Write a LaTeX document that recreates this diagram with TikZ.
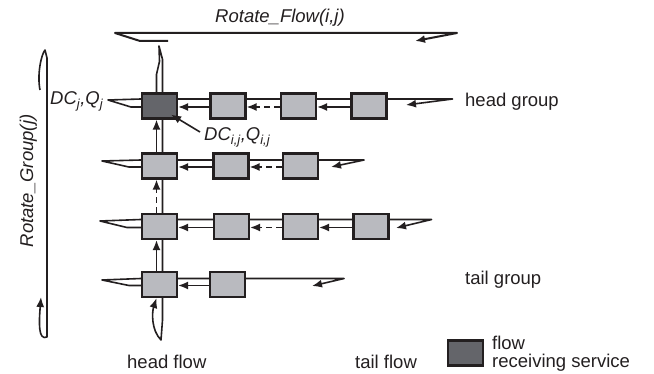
\documentclass[tikz,border=0pt]{standalone}
\usepackage{fontspec}
\setmainfont{Liberation Sans}
\usetikzlibrary{arrows.meta,calc,backgrounds}
\definecolor{cellgray}{RGB}{185,186,191}
\definecolor{headgray}{RGB}{100,101,106}
\definecolor{inkline}{RGB}{35,31,32}
\begin{document}
\begin{tikzpicture}[x=1pt,y=-1pt,
  cell/.style={draw=inkline,line width=2.2pt,fill=cellgray,minimum width=35pt,minimum height=25pt,inner sep=0pt},
  headcell/.style={cell,fill=headgray},
  wire/.style={draw=inkline,line width=1.6pt,line join=round},
  flowarrow/.style={wire,-{Latex[length=10pt,width=8pt]}},
  dasharrow/.style={flowarrow,dash pattern=on 6pt off 4pt},
  lbl/.style={font=\fontsize{18.5}{20}\selectfont,inner sep=0pt,text=inkline},
  ilbl/.style={lbl,font=\fontsize{18.5}{20}\selectfont\itshape}
]
\useasboundingbox (0,0) rectangle (654,374);

% service cells, one row per group
\node[headcell] (r1c1) at (159.5,106) {};
\node[cell] (r1c2) at (228,106) {};
\node[cell] (r1c3) at (298.5,106) {};
\node[cell] (r1c4) at (369,106) {};
\node[cell] (r2c1) at (159.5,166) {};
\node[cell] (r2c2) at (231,166) {};
\node[cell] (r2c3) at (300.5,166) {};
\node[cell] (r3c1) at (159.5,226.5) {};
\node[cell] (r3c2) at (231.5,226.5) {};
\node[cell] (r3c3) at (300.5,226.5) {};
\node[cell] (r3c4) at (371,226.5) {};
\node[cell] (r4c1) at (159.5,284.5) {};
\node[cell] (r4c2) at (227.5,284.5) {};

% loose ends of the row and column wires
\coordinate (l1) at (108,100);
\coordinate (l2) at (102,161);
\coordinate (l3) at (100,221);
\coordinate (l4) at (102,280);
\coordinate (e1) at ($(r1c4.east)+(65,-7)$);
\coordinate (e2) at ($(r2c3.east)+(45,-6)$);
\coordinate (e3) at ($(r3c4.east)+(42,-7)$);
\coordinate (e4) at ($(r4c2.east)+(98,-6)$);
\coordinate (a1) at (406,105);
\coordinate (a2) at (331,167);
\coordinate (a3) at (396,228);
\coordinate (a4) at (312,286);
\coordinate (vtop) at (159,46);
\coordinate (vbot) at (161,340);

\begin{scope}[on background layer]
  % row wires running behind the cells
  \draw[wire] ($(r1c1.west)+(0,1)$) -- ++(-10,0) -- (l1) -- ($(r1c1.west)+(0,-7)$);
  \draw[flowarrow] ($(r1c1.west)+(0,-7)$) -- ($(r1c4.east)+(0,-7)$) -- (e1) -- (a1);
  \draw[wire] ($(r2c1.west)+(0,1)$) -- ++(-12,0) -- (l2) -- ($(r2c1.west)+(0,-6)$);
  \draw[flowarrow] ($(r2c1.west)+(0,-6)$) -- ($(r2c3.east)+(0,-6)$) -- (e2) -- (a2);
  \draw[wire] ($(r3c1.west)+(0,1)$) -- ++(-14,0) -- (l3) -- ($(r3c1.west)+(0,-7)$);
  \draw[flowarrow] ($(r3c1.west)+(0,-7)$) -- ($(r3c4.east)+(0,-7)$) -- (e3) -- (a3);
  \draw[wire] ($(r4c1.west)+(0,1)$) -- ++(-12,0) -- (l4) -- ($(r4c1.west)+(0,-6)$);
  \draw[flowarrow] ($(r4c1.west)+(0,-6)$) -- ($(r4c2.east)+(0,-6)$) -- (e4) -- (a4);
  % column wire of the head flow
  \draw[flowarrow] ($(r1c1.north)+(-3,0)$) -- ++(0,-18) -- ($(r1c1.north)+(0,-31)$) -- (vtop)
    -- ($(r1c1.north)+(3,-33)$) -- ($(r4c1.south)+(3,22)$) -- (vbot)
    .. controls (151,330) and (152,312) .. ($(r4c1.south)+(-3,0)$);
\end{scope}

% hand-over arrows inside each row
\draw[flowarrow] ($(r1c2.west)+(0,1)$) -- ($(r1c1.east)+(0,1)$);
\draw[dasharrow] ($(r1c3.west)+(0,1)$) -- ($(r1c2.east)+(0,1)$);
\draw[flowarrow] ($(r1c4.west)+(0,1)$) -- ($(r1c3.east)+(0,1)$);
\draw[flowarrow] ($(r2c2.west)+(0,1)$) -- ($(r2c1.east)+(0,1)$);
\draw[dasharrow] ($(r2c3.west)+(0,1)$) -- ($(r2c2.east)+(0,1)$);
\draw[flowarrow] ($(r3c2.west)+(0,1)$) -- ($(r3c1.east)+(0,1)$);
\draw[dasharrow] ($(r3c3.west)+(0,1)$) -- ($(r3c2.east)+(0,1)$);
\draw[flowarrow] ($(r3c4.west)+(0,1)$) -- ($(r3c3.east)+(0,1)$);
\draw[flowarrow] ($(r4c2.west)+(0,1)$) -- ($(r4c1.east)+(0,1)$);

% hand-over arrows up the head flow
\draw[flowarrow] ($(r2c1.north)+(-3,0)$) -- ($(r1c1.south)+(-3,0)$);
\draw[dasharrow] ($(r3c1.north)+(-3,0)$) -- ($(r2c1.south)+(-3,0)$);
\draw[flowarrow] ($(r4c1.north)+(-3,0)$) -- ($(r3c1.south)+(-3,0)$);

% rotation of the flows
\node[ilbl,anchor=base] (rflab) at (280,23) {Rotate\_Flow(i,j)};
\coordinate (rfs) at (168,41);
\coordinate (rfb) at (140,41);
\coordinate (rfl) at (115,33);
\coordinate (rfr) at (457,33);
\coordinate (rfa) at (415,41);
\draw[flowarrow,line width=2pt] (rfs) -- (rfb) -- (rfl) -- (rfr) -- (rfa);

% rotation of the groups
\node[ilbl,rotate=90,anchor=base] (rglab) at (33,181) {Rotate\_Group(j)};
\coordinate (rgs) at (40,90);
\coordinate (rgt) at (45,50);
\coordinate (rgb) at (47,337);
\coordinate (rga) at (41,297);
\draw[flowarrow] (rgs) .. controls (37,75) and (41,55) .. (rgt) -- (47,58) -- (rgb)
  .. controls (38,341) and (39,322) .. (rga);

% annotations
\node[ilbl,anchor=base west] (dcj) at (50,105) {DC\textsubscript{j},Q\textsubscript{j}};
\node[ilbl,anchor=base west] (dcij) at (204,141) {DC\textsubscript{i,j},Q\textsubscript{i,j}};
\draw[flowarrow] ($(dcij.base west)+(-4,-9)$) -- ($(r1c1.south east)+(-7,-5)$);

\node[lbl,anchor=base west] (hg) at (465,107) {head group};
\node[lbl,anchor=base west] (tg) at (465,285) {tail group};
\node[lbl,anchor=base west] (hf) at (127,369) {head flow};
\node[lbl,anchor=base west] (tf) at (355,369) {tail flow};

% legend
\node[headcell] (legbox) at (465.5,353) {};
\node[lbl,anchor=base west] (leg1) at (492,350) {flow};
\node[lbl,anchor=base west] (leg2) at (492,367) {receiving service};
\end{tikzpicture}
\end{document}
